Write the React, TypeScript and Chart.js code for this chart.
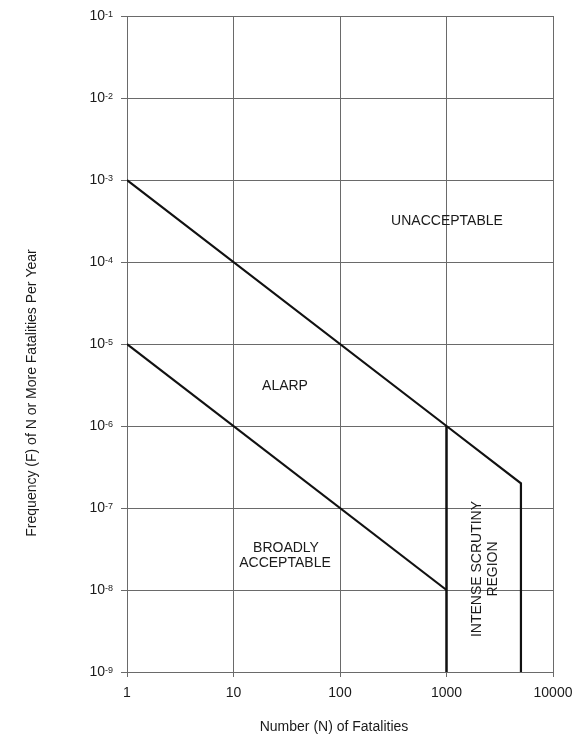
import React, { useEffect, useRef } from "react";
import { Chart, registerables } from "chart.js";

Chart.register(...registerables);

// Axis ticks
const X_TICKS = [1, 10, 100, 1000, 10000];
const Y_EXPONENTS = [-9, -8, -7, -6, -5, -4, -3, -2, -1];

// Upper (unacceptable) limit line
const UPPER_N = [1, 1000, 5000, 5000];
const UPPER_F = [1e-3, 1e-6, 2e-7, 1e-9];

// Lower (broadly acceptable) limit line
const LOWER_N = [1, 1000];
const LOWER_F = [1e-5, 1e-8];

// Intense scrutiny boundary at N = 1000
const SCRUTINY_N = [1000, 1000];
const SCRUTINY_F = [1e-6, 1e-9];

const FONT = "'Liberation Sans', Arial, sans-serif";
const TEXT = "#1a1a1a";
const GRID = "#6a6a6a";

const toPts = (xs: number[], ys: number[]) => xs.map((x, i) => ({ x, y: ys[i] }));

const labelsPlugin = {
  id: "fnLabels",
  afterDraw(chart: any) {
    const ctx = chart.ctx as CanvasRenderingContext2D;
    const yScale = chart.scales.y;
    ctx.save();
    ctx.fillStyle = TEXT;

    // y tick labels: 10 with superscript exponent
    const rightEdge = yScale.left + yScale.width - 14;
    Y_EXPONENTS.forEach((e) => {
      const py = yScale.getPixelForValue(Math.pow(10, e));
      const sup = String(e);
      ctx.font = `9px ${FONT}`;
      const supW = ctx.measureText(sup).width;
      ctx.textAlign = "right";
      ctx.textBaseline = "alphabetic";
      ctx.fillText(sup, rightEdge, py + 1);
      ctx.font = `14px ${FONT}`;
      ctx.textBaseline = "middle";
      ctx.fillText("10", rightEdge - supW, py);
    });

    // region labels
    ctx.font = `14px ${FONT}`;
    ctx.textAlign = "center";
    ctx.textBaseline = "middle";
    ctx.fillText("UNACCEPTABLE", 447, 221);
    ctx.fillText("ALARP", 285, 386);
    ctx.fillText("BROADLY", 286, 548);
    ctx.fillText("ACCEPTABLE", 285, 563);

    ctx.save();
    ctx.translate(485, 569);
    ctx.rotate(-Math.PI / 2);
    ctx.fillText("INTENSE SCRUTINY", 0, -8);
    ctx.fillText("REGION", 0, 8);
    ctx.restore();

    // axis titles
    ctx.fillText("Number (N) of Fatalities", 334, 727);
    ctx.save();
    ctx.translate(32, 393);
    ctx.rotate(-Math.PI / 2);
    ctx.fillText("Frequency (F) of N or More Fatalities Per Year", 0, 0);
    ctx.restore();

    ctx.restore();
  },
};

export default function App() {
  const ref = useRef<HTMLCanvasElement | null>(null);

  useEffect(() => {
    if (!ref.current) return;
    const lineStyle = {
      borderColor: "#111111",
      borderWidth: 2.2,
      pointRadius: 0,
      fill: false,
      tension: 0,
      showLine: true,
    };
    const chart = new Chart(ref.current, {
      type: "line",
      data: {
        datasets: [
          { label: "Upper", data: toPts(UPPER_N, UPPER_F), ...lineStyle },
          { label: "Lower", data: toPts(LOWER_N, LOWER_F), ...lineStyle },
          { label: "Scrutiny", data: toPts(SCRUTINY_N, SCRUTINY_F), ...lineStyle, borderWidth: 2.5 },
        ],
      },
      options: {
        responsive: false,
        animation: false,
        devicePixelRatio: 1,
        layout: { padding: { top: 16, right: 25, bottom: 0, left: 0 } },
        plugins: {
          legend: { display: false },
          tooltip: { enabled: false },
          title: { display: false },
        },
        scales: {
          x: {
            type: "logarithmic",
            min: 1,
            max: 10000,
            afterBuildTicks: (s: any) => {
              s.ticks = X_TICKS.map((v) => ({ value: v }));
            },
            afterFit: (s: any) => {
              s.height = 65;
              s.paddingLeft = 0;
              s.paddingRight = 0;
            },
            ticks: {
              callback: (v: any) => String(v),
              font: { family: FONT, size: 14 },
              color: TEXT,
              padding: 8,
              maxRotation: 0,
              autoSkip: false,
            },
            grid: { color: GRID, lineWidth: 1, tickLength: 5 },
            border: { color: GRID, width: 1 },
          },
          y: {
            type: "logarithmic",
            min: 1e-9,
            max: 1e-1,
            afterBuildTicks: (s: any) => {
              s.ticks = Y_EXPONENTS.map((e) => ({ value: Math.pow(10, e) }));
            },
            afterFit: (s: any) => {
              s.width = 127;
              s.paddingTop = 0;
              s.paddingBottom = 0;
            },
            ticks: { display: false },
            grid: { color: GRID, lineWidth: 1, tickLength: 6 },
            border: { color: GRID, width: 1 },
          },
        },
      },
      plugins: [labelsPlugin],
    } as any);
    return () => chart.destroy();
  }, []);

  return (
    <div style={{ position: "absolute", left: 0, top: 0, width: 578, height: 737, background: "#fff" }}>
      <canvas ref={ref} width={578} height={737} style={{ display: "block" }} />
    </div>
  );
}
